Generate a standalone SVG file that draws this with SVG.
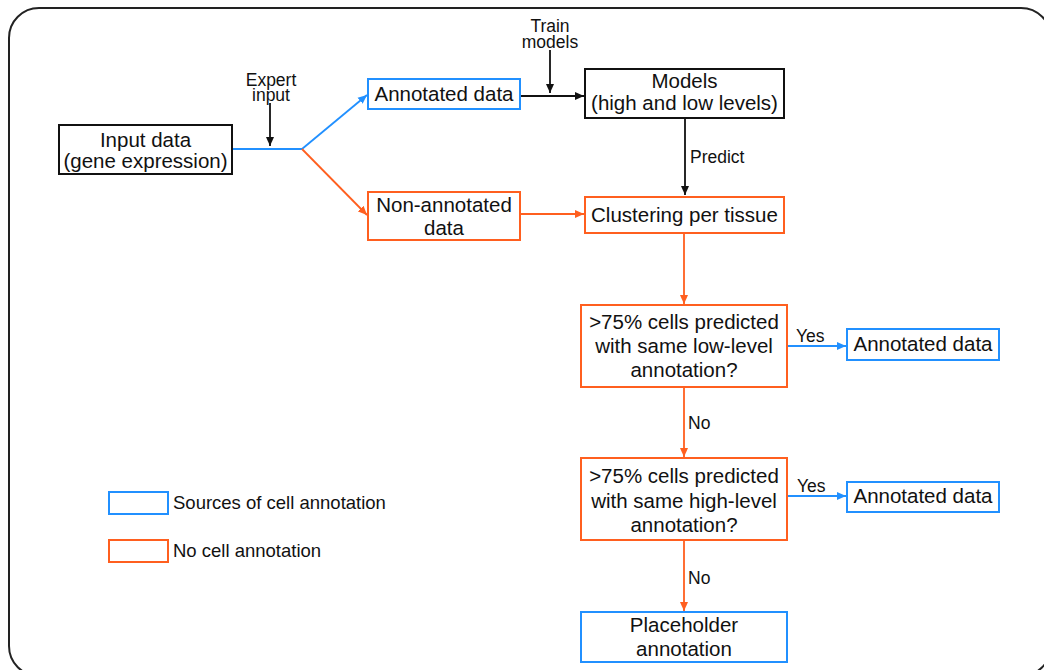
<svg xmlns="http://www.w3.org/2000/svg" width="1044" height="670" viewBox="0 0 1044 670">
<defs>
<style>
.t{font-family:"Liberation Sans",Arial,sans-serif;fill:#111;text-anchor:middle}
.n{font-size:20.5px}
.s{font-size:17.5px}
.l{font-size:18.5px;text-anchor:start}
.bk{fill:#fff;stroke:#111;stroke-width:2}
.bl{fill:#fff;stroke:#2190ff;stroke-width:2}
.or{fill:#fff;stroke:#ff5f1f;stroke-width:2}
.ck{fill:none;stroke:#111;stroke-width:1.8}
.cb{fill:none;stroke:#2190ff;stroke-width:1.8}
.co{fill:none;stroke:#ff5f1f;stroke-width:1.8}
</style>
<marker id="ak" markerWidth="10" markerHeight="10" refX="9" refY="5" orient="auto" markerUnits="userSpaceOnUse"><path d="M0,1 L9,5 L0,9 Z" fill="#111"/></marker>
<marker id="ab" markerWidth="10" markerHeight="10" refX="9" refY="5" orient="auto" markerUnits="userSpaceOnUse"><path d="M0,1 L9,5 L0,9 Z" fill="#2190ff"/></marker>
<marker id="ao" markerWidth="10" markerHeight="10" refX="9" refY="5" orient="auto" markerUnits="userSpaceOnUse"><path d="M0,1 L9,5 L0,9 Z" fill="#ff5f1f"/></marker>
</defs>
<rect x="9" y="8" width="1042" height="668" rx="30" ry="30" fill="none" stroke="#222" stroke-width="2"/>
<g id="connectors">
<path class="cb" d="M232,149 L302,149"/>
<path class="cb" d="M302,149 L367,95" marker-end="url(#ab)"/>
<path class="co" d="M302,149 L367,215" marker-end="url(#ao)"/>
<path class="ck" d="M270,103 L270,146" marker-end="url(#ak)"/>
<path class="ck" d="M520,96 L584,96" marker-end="url(#ak)"/>
<path class="ck" d="M550,50 L550,93" marker-end="url(#ak)"/>
<path class="ck" d="M685,118 L685,195" marker-end="url(#ak)"/>
<path class="co" d="M520,214 L584,214" marker-end="url(#ao)"/>
<path class="co" d="M684,233 L684,304" marker-end="url(#ao)"/>
<path class="cb" d="M787,346 L846,346" marker-end="url(#ab)"/>
<path class="co" d="M684,387 L684,457" marker-end="url(#ao)"/>
<path class="cb" d="M787,496 L846,496" marker-end="url(#ab)"/>
<path class="co" d="M684,540 L684,611" marker-end="url(#ao)"/>
<text class="t s" x="271" y="86">Expert</text>
<text class="t s" x="271" y="100.5">input</text>
<text class="t s" x="550" y="32">Train</text>
<text class="t s" x="550" y="47.5">models</text>
<text class="t s" x="690" y="163" style="text-anchor:start">Predict</text>
<text class="t s" x="796" y="342" style="text-anchor:start">Yes</text>
<text class="t s" x="688" y="429" style="text-anchor:start">No</text>
<text class="t s" x="797" y="492" style="text-anchor:start">Yes</text>
<text class="t s" x="688" y="584" style="text-anchor:start">No</text>
</g>
<g id="input">
<rect class="bk" x="59" y="125" width="173" height="49"/>
<text class="t n" x="145.5" y="146.5">Input data</text>
<text class="t n" x="145.5" y="167.5">(gene expression)</text>
</g>
<g id="annotated1">
<rect class="bl" x="368" y="79" width="152" height="30"/>
<text class="t n" x="444" y="100.5">Annotated data</text>
</g>
<g id="models">
<rect class="bk" x="585" y="69" width="199" height="49"/>
<text class="t n" x="684.5" y="88">Models</text>
<text class="t n" x="684.5" y="110">(high and low levels)</text>
</g>
<g id="nonannotated">
<rect class="or" x="368" y="192" width="152" height="48"/>
<text class="t n" x="444" y="212">Non-annotated</text>
<text class="t n" x="444" y="235">data</text>
</g>
<g id="clustering">
<rect class="or" x="585" y="197" width="199" height="36"/>
<text class="t n" x="684.5" y="222">Clustering per tissue</text>
</g>
<g id="decision1">
<rect class="or" x="581" y="305" width="206" height="82"/>
<text class="t n" x="684" y="328.5">&gt;75% cells predicted</text>
<text class="t n" x="684" y="352.5">with same low-level</text>
<text class="t n" x="684" y="376.5">annotation?</text>
</g>
<g id="annotated2">
<rect class="bl" x="847" y="329" width="152" height="31"/>
<text class="t n" x="923" y="351">Annotated data</text>
</g>
<g id="decision2">
<rect class="or" x="581" y="458" width="206" height="82"/>
<text class="t n" x="684" y="483">&gt;75% cells predicted</text>
<text class="t n" x="684" y="507.5">with same high-level</text>
<text class="t n" x="684" y="532">annotation?</text>
</g>
<g id="annotated3">
<rect class="bl" x="847" y="482" width="152" height="30"/>
<text class="t n" x="923" y="503">Annotated data</text>
</g>
<g id="placeholder">
<rect class="bl" x="581" y="612" width="206" height="50"/>
<text class="t n" x="684" y="631.5">Placeholder</text>
<text class="t n" x="684" y="655.5">annotation</text>
</g>
<g id="legend">
<rect class="bl" x="109" y="492" width="59" height="22"/>
<text class="t l" x="173" y="509">Sources of cell annotation</text>
<rect class="or" x="109" y="540" width="59" height="22"/>
<text class="t l" x="173" y="557">No cell annotation</text>
</g>
</svg>
